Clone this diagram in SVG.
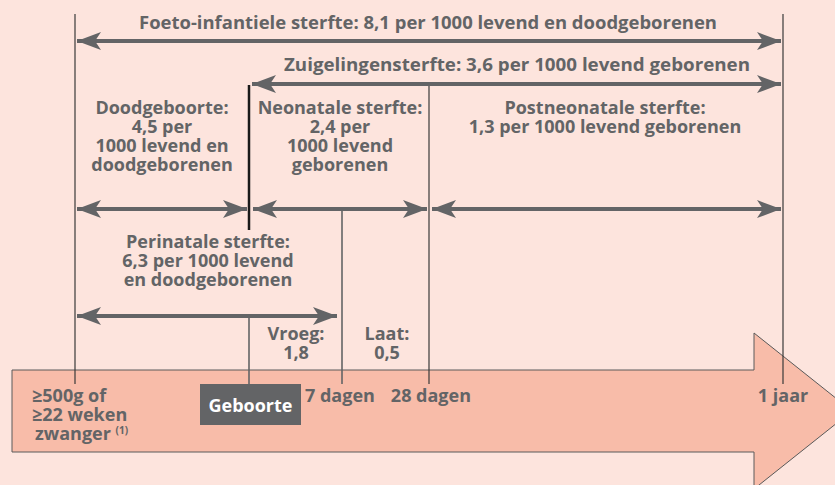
<svg xmlns="http://www.w3.org/2000/svg" width="835" height="485" viewBox="0 0 835 485">
<style>
.t{font-family:"Open Sans","Liberation Sans",sans-serif;font-weight:bold;font-size:18px;fill:#636466;text-anchor:middle}
.l{text-anchor:start}
.e{text-anchor:end}
.vl{stroke:#3a3a3a;stroke-width:1.2;fill:none}
.vg{stroke:#636466;stroke-width:1.6;fill:none}
.ar{stroke:#636466;stroke-width:4;fill:none;marker-start:url(#ah);marker-end:url(#ah)}
</style>
<defs>
<marker id="ah" viewBox="0 0 24 18" refX="24" refY="9" markerWidth="24" markerHeight="18" markerUnits="userSpaceOnUse" orient="auto-start-reverse">
<path d="M0,0 L24,9 L0,18 L6,9 Z" fill="#636466"/>
</marker>
</defs>
<rect width="835" height="485" fill="#FDE4DD"/>
<g id="timeline">
<path d="M12,370 L754,370 L754,333 L852,411 L754,489 L754,452 L12,452 Z" fill="#F8BCA9" stroke="#5a5a5a" stroke-width="1"/>
</g>
<g id="connectors">
<line class="vl" x1="75" y1="14" x2="75" y2="384"/>
<line class="vl" x1="783" y1="14" x2="783" y2="384"/>
<line class="vl" x1="429" y1="85" x2="429" y2="384"/>
<line x1="249" y1="85" x2="249" y2="230" stroke="#1a1a1a" stroke-width="2.5"/>
<line class="vg" x1="249" y1="316" x2="249" y2="384"/>
<line class="vg" x1="342" y1="209" x2="342" y2="384"/>
<line class="ar" x1="77" y1="41" x2="781" y2="41"/>
<line class="ar" x1="252" y1="84" x2="781" y2="84"/>
<line class="ar" x1="77" y1="209" x2="247" y2="209"/>
<line class="ar" x1="253" y1="209" x2="427" y2="209"/>
<line class="ar" x1="432" y1="209" x2="781" y2="209"/>
<line class="ar" x1="77" y1="316" x2="337" y2="316"/>
</g>
<g id="foeto">
<text class="t" x="428" y="29" textLength="578" lengthAdjust="spacingAndGlyphs">Foeto-infantiele sterfte: 8,1 per 1000 levend en doodgeborenen</text>
</g>
<g id="zuigelingen">
<text class="t" x="517" y="71" textLength="466" lengthAdjust="spacingAndGlyphs">Zuigelingensterfte: 3,6 per 1000 levend geborenen</text>
</g>
<g id="doodgeboorte">
<text class="t" x="162" y="114">Doodgeboorte:</text>
<text class="t" x="162" y="133">4,5 per</text>
<text class="t" x="162" y="152">1000 levend en</text>
<text class="t" x="162" y="171">doodgeborenen</text>
</g>
<g id="neonatale">
<text class="t" x="340" y="114">Neonatale sterfte:</text>
<text class="t" x="340" y="133">2,4 per</text>
<text class="t" x="340" y="152">1000 levend</text>
<text class="t" x="340" y="171">geborenen</text>
</g>
<g id="postneonatale">
<text class="t" x="605" y="114">Postneonatale sterfte:</text>
<text class="t" x="605" y="133">1,3 per 1000 levend geborenen</text>
</g>
<g id="perinatale">
<text class="t" x="208" y="248">Perinatale sterfte:</text>
<text class="t" x="208" y="267">6,3 per 1000 levend</text>
<text class="t" x="208" y="286">en doodgeborenen</text>
</g>
<g id="vroeg">
<text class="t" x="296" y="340">Vroeg:</text>
<text class="t" x="296" y="359">1,8</text>
</g>
<g id="laat">
<text class="t" x="387" y="340">Laat:</text>
<text class="t" x="387" y="359">0,5</text>
</g>
<g id="start">
<text class="t l" x="32" y="402">≥500g of</text>
<text class="t l" x="32" y="421">≥22 weken</text>
<text class="t l" x="35" y="440">zwanger <tspan font-size="10" dy="-6">(1)</tspan></text>
</g>
<g id="geboorte">
<rect x="200" y="384" width="101" height="41" fill="#636466"/>
<text class="t" x="250.5" y="412" style="fill:#ffffff">Geboorte</text>
</g>
<g id="dagen7">
<text class="t l" x="305" y="402">7 dagen</text>
</g>
<g id="dagen28">
<text class="t e" x="471" y="402">28 dagen</text>
</g>
<g id="jaar">
<text class="t" x="783" y="402">1 jaar</text>
</g>
</svg>
